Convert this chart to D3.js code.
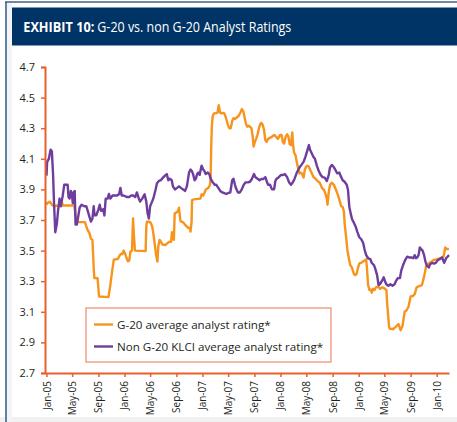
<!DOCTYPE html>
<html>
<head>
<meta charset="utf-8">
<script src="https://cdn.jsdelivr.net/npm/d3@7"></script>
<style>
  html, body { margin: 0; padding: 0; background: #fff; }
  svg { display: block; }
</style>
</head>
<body>
<svg id="chart" width="457" height="422"></svg>
<script>
// ---------------- DATA ----------------
const titleBold = "EXHIBIT 10:";
const titleRest = "G-20 vs. non G-20 Analyst Ratings";
const seriesNames = ["G-20 average analyst rating*", "Non G-20 KLCI average analyst rating*"];
const yTicks = [2.7, 2.9, 3.1, 3.3, 3.5, 3.7, 3.9, 4.1, 4.3, 4.5, 4.7];
const xTickDates = ["2005-01-01","2005-05-01","2005-09-01","2006-01-01","2006-05-01","2006-09-01",
  "2007-01-01","2007-05-01","2007-09-01","2008-01-01","2008-05-01","2008-09-01",
  "2009-01-01","2009-05-01","2009-09-01","2010-01-01"];

const g20Dates = ["2005-01-01","2005-01-04","2005-01-17","2005-01-26","2005-02-05","2005-02-24","2005-03-06","2005-03-13","2005-03-18","2005-04-10",
  "2005-05-11","2005-05-17","2005-05-23","2005-06-30","2005-07-06","2005-07-12","2005-07-21","2005-07-28","2005-08-04","2005-08-10",
  "2005-08-13","2005-08-28","2005-09-04","2005-10-18","2005-10-27","2005-11-04","2005-11-12","2005-12-01","2005-12-10","2005-12-16",
  "2005-12-22","2005-12-28","2006-01-04","2006-01-11","2006-01-17","2006-01-23","2006-01-29","2006-02-05","2006-02-10","2006-02-14",
  "2006-02-19","2006-04-10","2006-04-13","2006-04-16","2006-04-28","2006-05-04","2006-05-11","2006-05-17","2006-05-23","2006-05-29",
  "2006-06-04","2006-06-08","2006-06-14","2006-06-20","2006-06-27","2006-07-12","2006-07-28","2006-08-07","2006-08-11","2006-08-16",
  "2006-08-20","2006-08-24","2006-09-01","2006-09-07","2006-09-13","2006-09-20","2006-10-02","2006-10-11","2006-10-20","2006-10-27",
  "2006-11-03","2006-11-06","2006-11-11","2006-11-13","2006-11-22","2006-12-22","2006-12-28","2007-01-04","2007-01-11","2007-01-17",
  "2007-01-29","2007-02-05","2007-02-08","2007-02-11","2007-02-14","2007-02-18","2007-02-24","2007-03-12","2007-03-18","2007-03-25",
  "2007-04-01","2007-04-07","2007-04-13","2007-04-19","2007-04-25","2007-05-01","2007-05-07","2007-05-13","2007-05-20","2007-05-26",
  "2007-06-01","2007-06-10","2007-06-19","2007-06-28","2007-07-04","2007-07-11","2007-07-17","2007-07-23","2007-07-29","2007-08-05",
  "2007-08-18","2007-08-24","2007-08-28","2007-09-03","2007-09-09","2007-09-16","2007-09-22","2007-09-28","2007-10-04","2007-10-10",
  "2007-10-16","2007-10-22","2007-10-28","2007-11-04","2007-11-23","2007-12-02","2007-12-11","2007-12-20","2007-12-30","2008-01-06",
  "2008-01-12","2008-01-18","2008-01-25","2008-02-01","2008-02-07","2008-02-13","2008-02-19","2008-02-25","2008-02-29","2008-03-04",
  "2008-03-11","2008-03-17","2008-03-23","2008-03-29","2008-04-05","2008-04-11","2008-04-18","2008-04-24","2008-04-30","2008-05-06",
  "2008-05-12","2008-05-18","2008-05-25","2008-06-04","2008-06-13","2008-06-22","2008-07-01","2008-07-07","2008-07-13","2008-07-23",
  "2008-07-29","2008-08-05","2008-08-08","2008-08-14","2008-08-20","2008-08-28","2008-09-07","2008-09-17","2008-09-26","2008-10-05",
  "2008-10-11","2008-10-18","2008-10-24","2008-10-27","2008-11-03","2008-11-09","2008-11-16","2008-11-22","2008-11-28","2008-12-04",
  "2008-12-10","2008-12-16","2008-12-22","2008-12-28","2009-01-04","2009-01-13","2009-01-23","2009-01-29","2009-02-05","2009-02-08",
  "2009-02-14","2009-02-20","2009-02-27","2009-03-03","2009-03-09","2009-03-16","2009-03-22","2009-04-04","2009-04-10","2009-04-22",
  "2009-05-04","2009-05-11","2009-05-13","2009-05-18","2009-05-23","2009-05-26","2009-06-11","2009-06-27","2009-07-06","2009-07-16",
  "2009-07-25","2009-08-04","2009-08-13","2009-08-22","2009-09-01","2009-09-11","2009-09-20","2009-09-29","2009-10-14","2009-10-24",
  "2009-11-03","2009-11-12","2009-11-25","2009-12-08","2009-12-19","2010-01-01","2010-01-17","2010-02-02","2010-02-10","2010-02-18",
  "2010-02-27"];
const g20Values = [3.80,3.81,3.82,3.80,3.79,3.795,3.795,3.825,3.795,3.795,
  3.795,3.73,3.686,3.686,3.66,3.636,3.614,3.577,3.57,3.385,
  3.32,3.32,3.20,3.196,3.277,3.364,3.44,3.446,3.47,3.48,
  3.477,3.50,3.48,3.45,3.43,3.434,3.494,3.50,3.71,3.60,
  3.50,3.497,3.656,3.689,3.689,3.68,3.656,3.602,3.537,3.471,
  3.428,3.525,3.57,3.56,3.54,3.537,3.557,3.557,3.62,3.61,
  3.57,3.744,3.75,3.755,3.78,3.693,3.685,3.67,3.656,3.647,
  3.65,3.624,3.689,3.83,3.835,3.84,3.868,3.86,3.88,3.90,
  3.911,3.93,3.97,4.19,4.32,4.38,4.397,4.40,4.45,4.40,
  4.397,4.40,4.397,4.375,4.347,4.316,4.30,4.30,4.347,4.365,
  4.36,4.37,4.38,4.404,4.425,4.41,4.37,4.332,4.31,4.316,
  4.30,4.245,4.18,4.21,4.23,4.26,4.30,4.325,4.335,4.32,
  4.29,4.223,4.21,4.23,4.245,4.256,4.245,4.23,4.256,4.256,
  4.21,4.20,4.245,4.26,4.245,4.195,4.19,4.273,4.19,4.142,
  4.125,4.08,4.04,4.005,4.01,4.0,3.977,4.03,4.05,4.055,
  4.05,4.03,4.01,3.98,3.97,3.955,3.946,3.93,3.91,3.895,
  3.874,3.837,3.80,3.885,3.93,3.944,3.93,3.896,3.863,3.82,
  3.79,3.785,3.754,3.68,3.59,3.504,3.45,3.406,3.395,3.373,
  3.347,3.34,3.347,3.384,3.417,3.42,3.43,3.435,3.443,3.395,
  3.275,3.242,3.245,3.225,3.25,3.242,3.26,3.265,3.25,3.26,
  3.25,3.242,3.177,3.09,3.003,2.99,2.986,3.007,3.02,2.98,
  3.007,3.10,3.11,3.133,3.20,3.203,3.216,3.26,3.27,3.275,
  3.33,3.395,3.417,3.428,3.44,3.443,3.45,3.46,3.52,3.51,
  3.51];

const nonG20Dates = ["2005-01-01","2005-01-04","2005-01-12","2005-01-20","2005-01-26","2005-02-01","2005-02-05","2005-02-11","2005-02-18","2005-02-24",
  "2005-03-03","2005-03-09","2005-03-18","2005-03-25","2005-04-10","2005-04-14","2005-04-19","2005-04-25","2005-05-01","2005-05-04",
  "2005-05-07","2005-05-13","2005-05-17","2005-05-23","2005-05-29","2005-06-05","2005-06-14","2005-06-27","2005-07-06","2005-07-15",
  "2005-07-21","2005-07-28","2005-08-04","2005-08-10","2005-08-14","2005-08-22","2005-09-01","2005-09-07","2005-09-13","2005-09-23",
  "2005-09-29","2005-10-05","2005-10-14","2005-10-20","2005-10-27","2005-11-06","2005-11-15","2005-11-28","2005-12-07","2005-12-13",
  "2005-12-19","2005-12-28","2006-01-13","2006-01-23","2006-02-02","2006-02-11","2006-02-20","2006-02-28","2006-03-09","2006-03-15",
  "2006-03-25","2006-04-05","2006-04-13","2006-04-19","2006-04-25","2006-05-01","2006-05-10","2006-05-16","2006-05-26","2006-06-02",
  "2006-06-11","2006-06-20","2006-06-30","2006-07-09","2006-07-18","2006-07-25","2006-08-01","2006-08-10","2006-08-16","2006-08-25",
  "2006-09-04","2006-09-13","2006-09-22","2006-10-02","2006-10-11","2006-10-20","2006-10-30","2006-11-06","2006-11-12","2006-11-18",
  "2006-11-25","2006-12-01","2006-12-07","2006-12-13","2006-12-19","2006-12-25","2006-12-28","2007-01-04","2007-01-10","2007-01-16",
  "2007-01-26","2007-02-02","2007-02-08","2007-02-18","2007-02-27","2007-03-06","2007-03-16","2007-03-25","2007-04-04","2007-04-13",
  "2007-04-22","2007-05-01","2007-05-11","2007-05-20","2007-05-26","2007-06-02","2007-06-07","2007-06-16","2007-06-25","2007-07-04",
  "2007-07-13","2007-07-22","2007-08-02","2007-08-11","2007-08-20","2007-08-30","2007-09-06","2007-09-16","2007-09-25","2007-10-04",
  "2007-10-13","2007-10-22","2007-10-28","2007-11-04","2007-11-13","2007-11-22","2007-12-02","2007-12-08","2007-12-14","2007-12-24",
  "2008-01-03","2008-01-13","2008-01-22","2008-02-01","2008-02-10","2008-02-19","2008-02-28","2008-03-07","2008-03-16","2008-03-26",
  "2008-04-02","2008-04-08","2008-04-18","2008-04-27","2008-05-06","2008-05-13","2008-05-18","2008-05-25","2008-06-04","2008-06-10",
  "2008-06-19","2008-06-28","2008-07-07","2008-07-16","2008-07-26","2008-08-05","2008-08-14","2008-08-19","2008-08-28","2008-09-04",
  "2008-09-13","2008-09-22","2008-10-02","2008-10-08","2008-10-18","2008-10-27","2008-11-06","2008-11-12","2008-11-18","2008-11-25",
  "2008-12-01","2008-12-10","2008-12-19","2008-12-25","2009-01-04","2009-01-13","2009-01-22","2009-01-29","2009-02-05","2009-02-14",
  "2009-02-24","2009-03-03","2009-03-13","2009-03-19","2009-03-28","2009-04-04","2009-04-10","2009-04-19","2009-04-28","2009-05-04",
  "2009-05-10","2009-05-20","2009-05-29","2009-06-08","2009-06-18","2009-06-24","2009-07-03","2009-07-13","2009-07-19","2009-07-28",
  "2009-08-07","2009-08-16","2009-08-25","2009-09-04","2009-09-13","2009-09-20","2009-09-26","2009-10-02","2009-10-08","2009-10-14",
  "2009-10-20","2009-10-27","2009-11-03","2009-11-09","2009-11-16","2009-11-25","2009-12-01","2009-12-10","2009-12-19","2009-12-28",
  "2010-01-07","2010-01-16","2010-01-26","2010-02-05","2010-02-14","2010-02-24","2010-02-28"];
const nonG20Values = [3.99,4.08,4.10,4.16,4.15,3.99,3.82,3.62,3.67,3.76,
  3.84,3.79,3.86,3.93,3.93,3.85,3.84,3.89,3.85,3.81,
  3.88,3.89,3.67,3.67,3.72,3.78,3.80,3.79,3.79,3.75,
  3.72,3.69,3.71,3.79,3.73,3.73,3.77,3.80,3.76,3.77,
  3.73,3.84,3.84,3.87,3.84,3.86,3.86,3.86,3.87,3.91,
  3.86,3.86,3.85,3.85,3.86,3.86,3.85,3.88,3.84,3.82,
  3.84,3.868,3.82,3.744,3.71,3.79,3.82,3.84,3.896,3.94,
  3.955,3.96,3.977,3.99,4.0,3.96,3.97,3.96,3.918,3.90,
  3.91,3.92,3.91,3.90,3.89,3.92,4.01,4.03,4.02,4.0,
  3.96,3.97,4.0,4.01,3.995,4.04,4.055,4.03,4.02,4.0,
  4.01,4.0,3.97,3.946,3.93,3.93,3.91,3.89,3.88,3.875,
  3.87,3.875,3.88,3.96,3.97,3.93,3.907,3.88,3.88,3.90,
  3.93,3.946,3.946,3.95,3.968,4.0,3.98,3.97,3.96,3.968,
  3.968,3.98,3.955,3.93,3.93,3.90,3.90,3.955,3.97,3.98,
  3.994,3.994,4.0,3.98,3.946,3.93,3.946,3.97,4.005,4.033,
  4.05,4.06,4.08,4.114,4.157,4.19,4.16,4.14,4.11,4.10,
  4.055,4.02,3.995,3.98,3.977,3.955,3.995,4.04,4.06,4.05,
  4.03,4.005,4.01,3.99,3.96,3.95,3.93,3.896,3.787,3.74,
  3.705,3.68,3.652,3.624,3.587,3.574,3.55,3.504,3.47,3.45,
  3.445,3.42,3.406,3.384,3.34,3.275,3.28,3.30,3.325,3.30,
  3.28,3.27,3.28,3.27,3.28,3.30,3.32,3.32,3.369,3.406,
  3.44,3.46,3.455,3.455,3.45,3.47,3.45,3.455,3.47,3.52,
  3.51,3.50,3.47,3.43,3.40,3.39,3.41,3.42,3.415,3.42,
  3.44,3.445,3.455,3.42,3.45,3.465,3.47];

// ---------------- DRAW ----------------
const parse = d3.timeParse("%Y-%m-%d");
const svg = d3.select("#chart");
const FONT = "'Open Sans', 'Noto Sans', sans-serif";
const AXIS = "#e8602c";
const ORANGE = "#f7941d";
const PURPLE = "#6e3d9e";
const TEXT = "#231f20";

// frame
svg.append("rect").attr("x", 0).attr("y", 0).attr("width", 457).attr("height", 422).attr("fill", "#fff");
svg.append("rect").attr("x", 0).attr("y", 417).attr("width", 457).attr("height", 5).attr("fill", "#f1f1f1");
svg.append("rect").attr("x", 7).attr("y", 3).attr("width", 5).attr("height", 419).attr("fill", "#f3f4f6");
svg.append("line").attr("x1", 5).attr("x2", 457).attr("y1", 2).attr("y2", 2)
  .attr("stroke", "#3e6283").attr("stroke-width", 1.5);
svg.append("line").attr("x1", 6).attr("x2", 6).attr("y1", 2).attr("y2", 422)
  .attr("stroke", "#2d5a85").attr("stroke-width", 1.5);

// title bar
svg.append("rect").attr("x", 12).attr("y", 7.5).attr("width", 445).attr("height", 38).attr("fill", "#003466");
svg.append("text").attr("x", 23.3).attr("y", 32)
  .attr("fill", "#fff").attr("font-family", FONT).attr("font-size", 14.5).attr("font-weight", "bold")
  .attr("textLength", 71).attr("lengthAdjust", "spacingAndGlyphs")
  .text(titleBold);
svg.append("text").attr("x", 97.3).attr("y", 32)
  .attr("fill", "#fff").attr("font-family", FONT).attr("font-size", 14.5)
  .attr("textLength", 194).attr("lengthAdjust", "spacingAndGlyphs")
  .text(titleRest);

// scales
const base = d3.scaleTime()
  .domain([parse("2005-01-01"), parse("2010-01-01")])
  .range([46.5, 436.7]);
const x = d3.scaleTime().domain([base.invert(45), base.invert(449)]).range([45, 449]);
const y = d3.scaleLinear().domain([2.7, 4.7]).range([373, 67]);

// lines
const line = d3.line().x(d => x(d[0])).y(d => y(d[1])).curve(d3.curveLinear);
const g20 = g20Dates.map((d, i) => [parse(d), g20Values[i]]);
const non = nonG20Dates.map((d, i) => [parse(d), nonG20Values[i]]);

svg.append("path").datum(g20).attr("d", line)
  .attr("fill", "none").attr("stroke", ORANGE).attr("stroke-width", 2.4).attr("stroke-linejoin", "round");
svg.append("path").datum(non).attr("d", line)
  .attr("fill", "none").attr("stroke", PURPLE).attr("stroke-width", 2.4).attr("stroke-linejoin", "round");

// y axis
const yAxis = svg.append("g").attr("transform", "translate(45,0)")
  .call(d3.axisLeft(y).tickValues(yTicks).tickFormat(d3.format(".1f")).tickSize(4).tickPadding(6));
yAxis.select(".domain").attr("stroke", AXIS).attr("stroke-width", 2);
yAxis.selectAll(".tick line").attr("stroke", AXIS).attr("stroke-width", 1.5);
yAxis.selectAll(".tick text").attr("fill", TEXT).attr("font-family", FONT).attr("font-size", 11);

// x axis
const xAxis = svg.append("g").attr("transform", "translate(0,373)")
  .call(d3.axisBottom(x).tickValues(xTickDates.map(parse)).tickFormat(d3.timeFormat("%b-%y")).tickSize(4).tickSizeOuter(0));
xAxis.select(".domain").attr("stroke", AXIS).attr("stroke-width", 2);
xAxis.selectAll(".tick line").attr("stroke", AXIS).attr("stroke-width", 1.5);
xAxis.selectAll(".tick text")
  .attr("fill", TEXT).attr("font-family", FONT).attr("font-size", 10)
  .attr("transform", "rotate(-90)")
  .attr("x", -8).attr("y", 0).attr("dy", "0.35em")
  .attr("text-anchor", "end");

// legend
const lg = svg.append("g");
lg.append("rect").attr("x", 86).attr("y", 308).attr("width", 245).attr("height", 54)
  .attr("fill", "#fff").attr("stroke", "#ee8a6a").attr("stroke-width", 1.2);
const colors = [ORANGE, PURPLE];
seriesNames.forEach((name, i) => {
  const yy = 324.5 + i * 22;
  lg.append("line").attr("x1", 94).attr("x2", 113).attr("y1", yy).attr("y2", yy)
    .attr("stroke", colors[i]).attr("stroke-width", 2.4);
  lg.append("text").attr("x", 117).attr("y", yy).attr("dy", "0.35em")
    .attr("fill", TEXT).attr("font-family", FONT).attr("font-size", 11.6).text(name);
});
</script>
</body>
</html>
